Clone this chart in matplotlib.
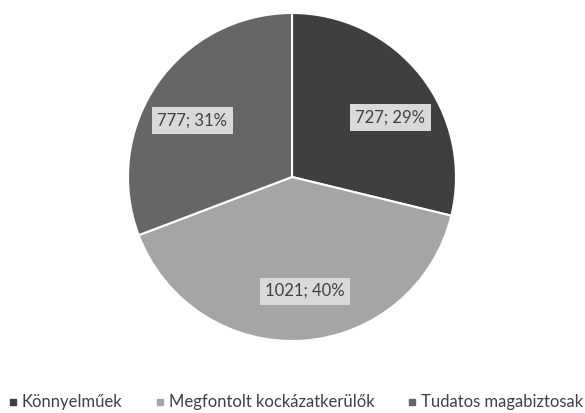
import matplotlib.pyplot as plt
import numpy as np
from matplotlib.lines import Line2D

# 数据
labels = ['Könnyelműek', 'Megfontolt kockázatkerülők', 'Tudatos magabiztosak']
values = [727, 1021, 777]
colors = ['#3f3f3f', '#a5a5a5', '#666666']

plt.rcParams['font.family'] = ['Lato', 'DejaVu Sans']

fig = plt.figure(figsize=(5.85, 4.13), dpi=100)
ax = fig.add_axes([292/585 - 164/585, 1 - 341/413, 328/585, 328/413])

total = sum(values)
wedges, _ = ax.pie(values, colors=colors, startangle=90, counterclock=False,
                   wedgeprops=dict(edgecolor='white', linewidth=1.5))
ax.set_aspect('equal')
ax.set_xlim(-1, 1)
ax.set_ylim(-1, 1)

# 数据标签（位置相对扇形中线稍作偏移）
offs = [-7, 3, 5]
for w, v, o in zip(wedges, values, offs):
    ang = np.deg2rad((w.theta1 + w.theta2) / 2 + o)
    ax.text(0.7 * np.cos(ang), 0.7 * np.sin(ang), f'{v}; {round(v / total * 100)}%',
            ha='center', va='center', fontsize=12, color='#404040',
            bbox=dict(facecolor='#d9d9d9', edgecolor='none', pad=4))

# 图例
handles = [Line2D([], [], marker='s', linestyle='none', markersize=5,
                  markerfacecolor=c, markeredgecolor=c) for c in colors]
fig.legend(handles, labels, loc='lower center', bbox_to_anchor=(0.505, -0.03),
           ncol=3, frameon=False, fontsize=12, handletextpad=0.2,
           columnspacing=2.0, labelcolor='#404040', handlelength=0.6)

plt.savefig('out.png', dpi=100)
